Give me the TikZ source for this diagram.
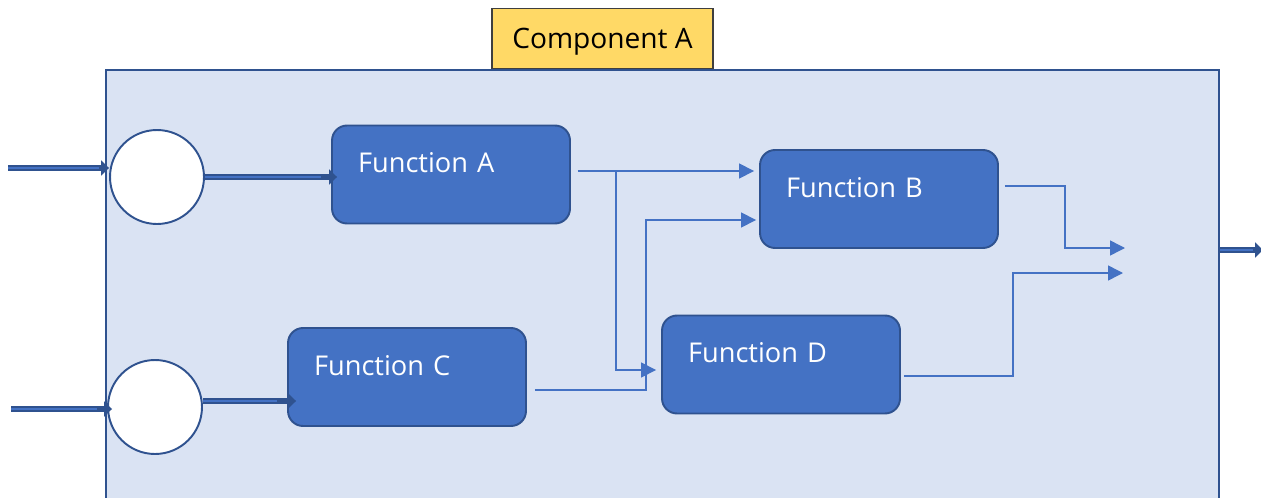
\documentclass[tikz,border=0pt]{standalone}
\usepackage{fontspec}
\setmainfont{Open Sans}
\usetikzlibrary{arrows.meta, positioning}
\definecolor{boxfill}{HTML}{DAE3F3}
\definecolor{boxline}{HTML}{2F528F}
\definecolor{fnfill}{HTML}{4472C4}
\definecolor{tagfill}{HTML}{FFD966}
\definecolor{tagline}{HTML}{3F3F3F}

\begin{document}
\begin{tikzpicture}[x=0.02cm, y=0.02cm,
  component/.style={rectangle, draw=boxline, fill=boxfill, line width=1.1pt, minimum width=22.26cm, minimum height=9cm},
  tag/.style={rectangle, draw=tagline, fill=tagfill, line width=0.8pt, minimum width=4.42cm, minimum height=1.2cm, text depth=0pt, font=\fontsize{16}{19}\selectfont},
  port/.style={circle, draw=boxline, fill=white, line width=1.1pt, minimum size=1.88cm, inner sep=0pt},
  function/.style={rectangle, rounded corners=0.3cm, draw=boxline, fill=fnfill, line width=1.1pt, text=white, font=\fontsize{15.5}{18}\selectfont, minimum width=4.76cm, minimum height=1.96cm, text width=3.72cm, inner xsep=0.52cm, inner ysep=0pt, align=left, text height=0.94cm, text depth=1.02cm},
  pipe/.style={draw=boxline, line width=0.13cm, -{Triangle[length=0.16cm, width=0.3cm]}, postaction={draw=fnfill, line width=0.05cm, -, shorten >=0.2cm}},
  wire/.style={draw=fnfill, line width=0.85pt, -{Triangle[length=0.3cm, width=0.3cm]}}]

  \useasboundingbox (0,0) rectangle (1261,-497);
  \clip (0,0) rectangle (1261,-497);

  % component and its tag
  \node[component] (comp) at (662.5,-295) {};
  \node[tag] (tag) [above=0pt of comp.north, xshift=-1.2cm] {Component A};

  % ports and functions
  \node[port] (c1) at (157,-177) {};
  \node[port] (c2) at (155,-407) {};
  \node[function] (fa) at (451,-174.5) {Function A};
  \node[function] (fb) at (879,-199) {Function B};
  \node[function] (fc) at (407,-377) {Function C};
  \node[function] (fd) at (781,-364.5) {Function D};

  \coordinate (in1) at (8,-168);
  \coordinate (in2) at (11,-409);
  \coordinate (out) at (1263,-250);
  \coordinate (sink b) at (1125,-248);
  \coordinate (sink d) at (1123,-273);
  \coordinate (fa out) at ([xshift=0.14cm, yshift=0.07cm]fa.east);
  \coordinate (fb out) at ([xshift=0.12cm, yshift=0.26cm]fb.east);
  \coordinate (fc out) at ([xshift=0.16cm, yshift=-0.26cm]fc.east);
  \coordinate (fd out) at ([xshift=0.06cm, yshift=-0.23cm]fd.east);

  % thick arrows
  \draw[pipe] (in1) -- (in1 -| c1.west);
  \draw[pipe, shorten >=-0.12cm] (c1.east) -- (c1.east -| fa.west);
  \draw[pipe, shorten >=-0.1cm] (in2) -- (in2 -| c2.west);
  \draw[pipe, shorten >=-0.18cm] ([yshift=0.12cm]c2.east) -- ([yshift=0.12cm]fc.west |- c2.east);
  \draw[pipe] (out -| comp.east) -- (out);

  % thin connectors
  \draw[wire, shorten >=0.1cm] (fa out) -- (fa out -| fb.west);
  \draw[wire] (fa out) -| ([xshift=-0.9cm, yshift=-0.11cm]fd.west) -- ([xshift=-0.1cm, yshift=-0.11cm]fd.west);
  \draw[wire] (fc out) -| ([xshift=-2.26cm, yshift=-0.42cm]fb.west) -- ([xshift=-0.06cm, yshift=-0.42cm]fb.west);
  \draw[wire] (fb out) -| ([xshift=-1.2cm]sink b) -- (sink b);
  \draw[wire] (fd out) -| ([xshift=-2.2cm]sink d) -- (sink d);

\end{tikzpicture}
\end{document}
